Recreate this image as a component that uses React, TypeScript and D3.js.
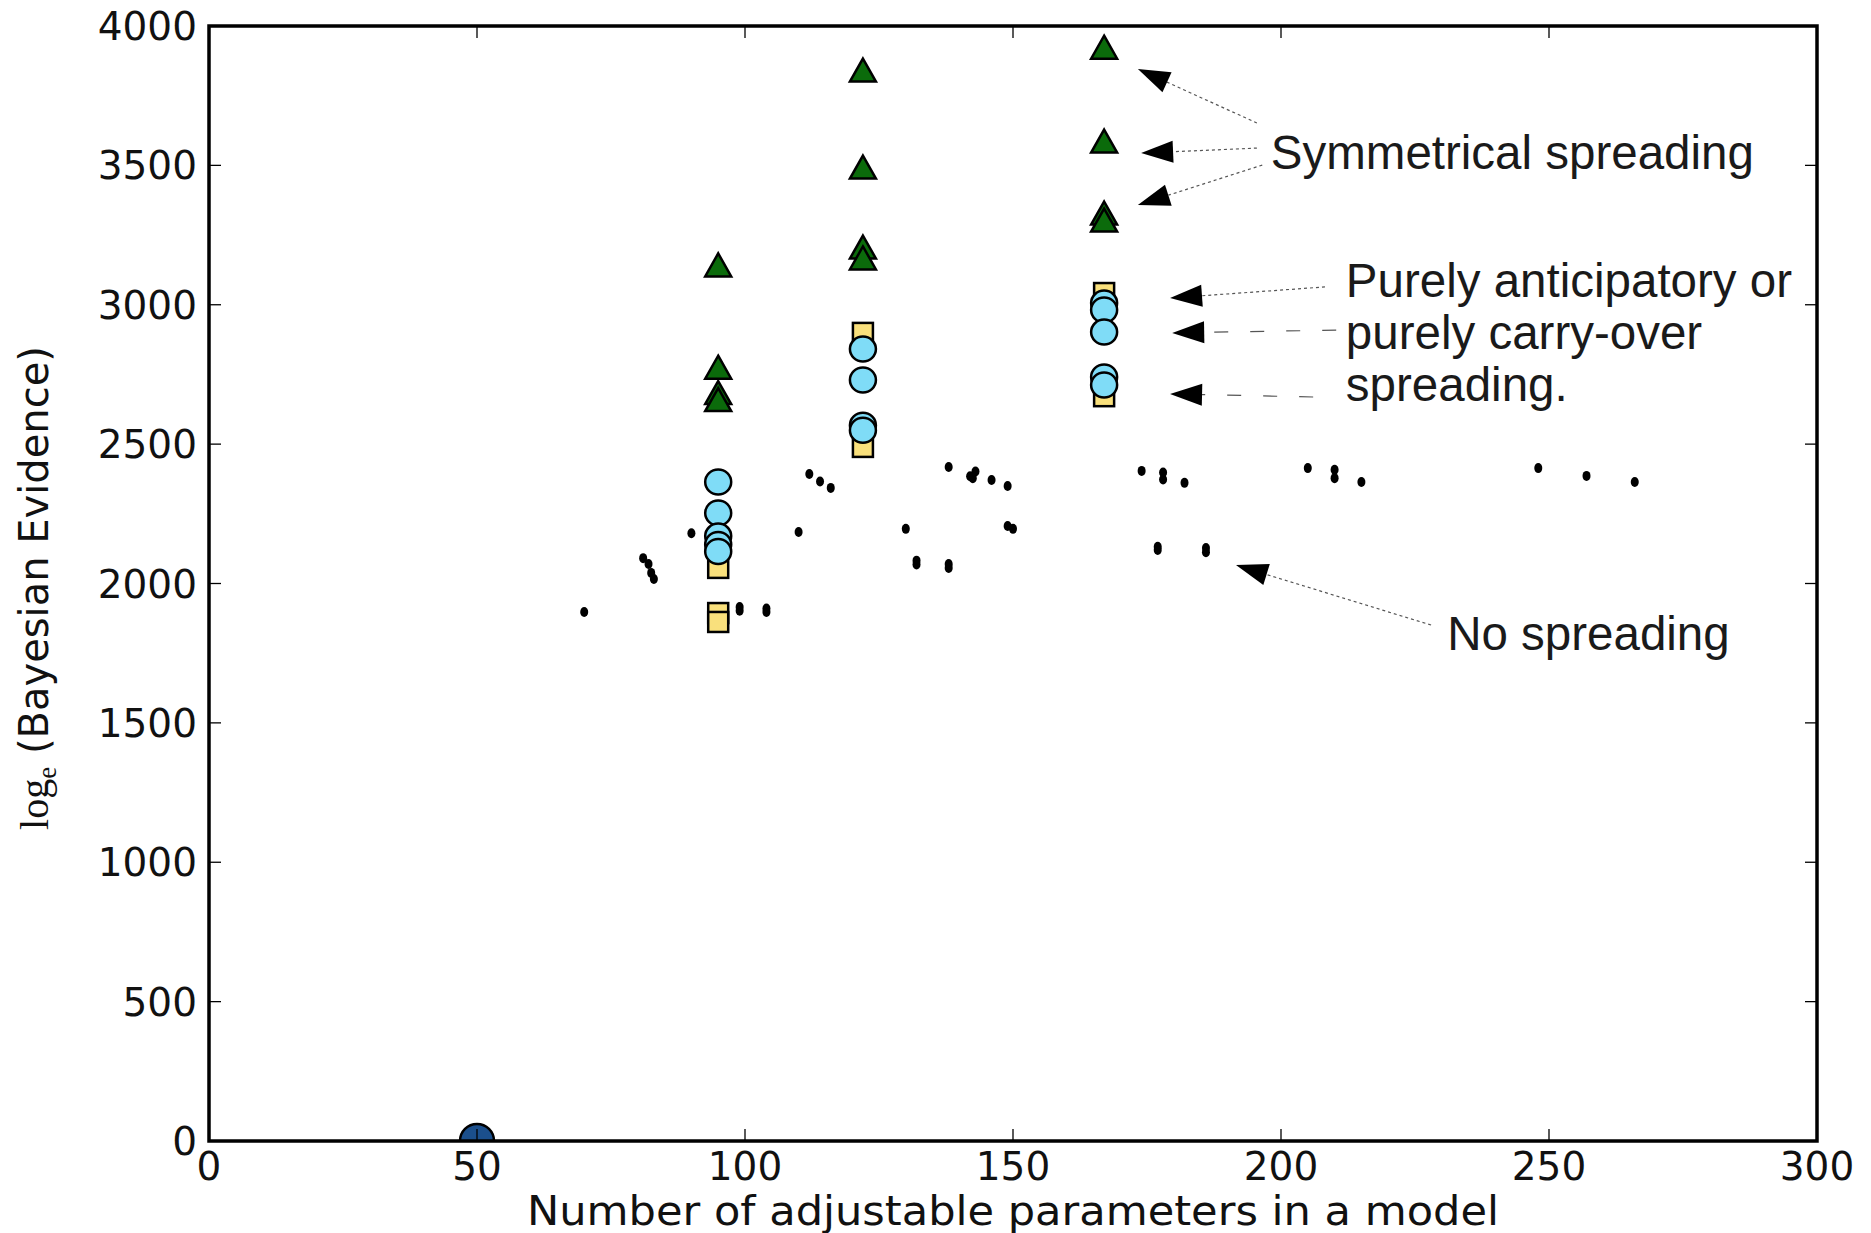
import React from "react";
import * as d3 from "d3";

const W = 1871;
const H = 1233;

const xTicks = [0, 50, 100, 150, 200, 250, 300];
const yTicks = [0, 500, 1000, 1500, 2000, 2500, 3000, 3500, 4000];

// No spreading (small black dots)
const noSpreadX = [70, 81, 82, 82.5, 83, 90, 99, 99, 104, 104, 110, 112, 114, 116, 130, 132, 132, 138, 138, 138, 142, 143, 142.5, 146, 149, 149, 150, 174, 178, 178, 182, 177, 177, 186, 186, 205, 210, 210, 215, 248, 257, 266];
const noSpreadY = [1898, 2091, 2070, 2038, 2016, 2180, 1916, 1902, 1910, 1898, 2185, 2393, 2366, 2343, 2196, 2082, 2068, 2070, 2056, 2418, 2385, 2402, 2378, 2371, 2350, 2206, 2196, 2404, 2398, 2373, 2361, 2132, 2120, 2127, 2112, 2414, 2408, 2378, 2364, 2414, 2386, 2364];

// Symmetrical spreading (green triangles)
const symX = [95, 95, 95, 95, 122, 122, 122, 122, 167, 167, 167, 167];
const symY = [3143, 2776, 2685, 2660, 3842, 3494, 3207, 3168, 3924, 3587, 3329, 3304];

// Purely anticipatory (yellow squares)
const antX = [95, 95, 95, 122, 122, 167, 167];
const antY = [2056, 1894, 1862, 2899, 2490, 3042, 2672];

// Purely carry-over (cyan circles)
const carryX = [95, 95, 95, 95, 95, 122, 122, 122, 122, 167, 167, 167, 167, 167];
const carryY = [2364, 2253, 2170, 2140, 2115, 2841, 2730, 2568, 2550, 3006, 2981, 2902, 2741, 2712];

// Baseline model (big blue circle)
const baseX = [50];
const baseY = [0];

// Annotations (data coordinates)
const annLabels = [
  ["Symmetrical spreading"],
  ["Purely anticipatory or", "purely carry-over", "spreading."],
  ["No spreading"],
];
const annTextPos = [
  [198.1, 3487],
  [212.1, 3028],
  [231, 1761],
];
const annArrows = [
  { from: [195.5, 3652], to: [173.3, 3846], dash: "3,3" },
  { from: [195.5, 3562], to: [173.9, 3544], dash: "3,3" },
  { from: [196.5, 3501], to: [173.3, 3358], dash: "3,3" },
  { from: [208.2, 3064], to: [179.3, 3024], dash: "3,3" },
  { from: [210.3, 2909], to: [179.7, 2899], dash: "14,22" },
  { from: [206.0, 2669], to: [179.3, 2680], dash: "14,22" },
  { from: [228.0, 1851], to: [191.6, 2066], dash: "3,3" },
];

export default function App() {
  const L = 209, R = 1817, T = 26, B = 1141;
  const x = d3.scaleLinear().domain([0, 300]).range([L, R]);
  const y = d3.scaleLinear().domain([0, 4000]).range([B, T]);
  const tickLen = 12;

  const triPath = (cx: number, cy: number) => {
    const hw = 13, hh = 11.5;
    return `M${cx},${cy - hh}L${cx + hw},${cy + hh}L${cx - hw},${cy + hh}Z`;
  };

  const arrows = annArrows.map((a, i) => {
    const sx = x(a.from[0]), sy = y(a.from[1]);
    const tx = x(a.to[0]), ty = y(a.to[1]);
    const dx = tx - sx, dy = ty - sy;
    const len = Math.hypot(dx, dy);
    const ux = dx / len, uy = dy / len;
    const hl = 32, hw = 11;
    const bx = tx - ux * hl, by = ty - uy * hl;
    const nx = -uy, ny = ux;
    const pts = `${tx},${ty} ${bx + nx * hw},${by + ny * hw} ${bx - nx * hw},${by - ny * hw}`;
    return (
      <g key={i}>
        <line x1={sx} y1={sy} x2={bx} y2={by} stroke="#555" strokeWidth={1.2} strokeDasharray={a.dash} />
        <polygon points={pts} fill="#000" />
      </g>
    );
  });

  return (
    <svg width={W} height={H} style={{ position: "absolute", left: 0, top: 0, background: "#fff" }}>
      <defs>
        <clipPath id="plotclip">
          <rect x={L} y={T} width={R - L} height={B - T} />
        </clipPath>
      </defs>
      <rect x={0} y={0} width={W} height={H} fill="#fff" />

      <g clipPath="url(#plotclip)">
        {noSpreadX.map((v, i) => (
          <ellipse key={"n" + i} cx={x(v)} cy={y(noSpreadY[i])} rx={4} ry={5} fill="#000" />
        ))}
        {antX.map((v, i) => (
          <rect key={"a" + i} x={x(v) - 10} y={y(antY[i]) - 10} width={20} height={20} fill="#f9e07c" stroke="#000" strokeWidth={2.5} />
        ))}
        {carryX.map((v, i) => (
          <ellipse key={"c" + i} cx={x(v)} cy={y(carryY[i])} rx={13} ry={12.5} fill="#7fdcf7" stroke="#000" strokeWidth={2.5} />
        ))}
        {symX.map((v, i) => (
          <path key={"s" + i} d={triPath(x(v), y(symY[i]))} fill="#0b6b0b" stroke="#000" strokeWidth={2.5} strokeLinejoin="miter" />
        ))}
        {baseX.map((v, i) => (
          <circle key={"b" + i} cx={x(v)} cy={y(baseY[i])} r={17} fill="#1b4f8c" stroke="#000" strokeWidth={2.5} />
        ))}
      </g>

      {/* ticks */}
      {xTicks.map((t) => (
        <g key={"xt" + t}>
          <line x1={x(t)} x2={x(t)} y1={B} y2={B - tickLen} stroke="#000" strokeWidth={1.3} />
          <line x1={x(t)} x2={x(t)} y1={T} y2={T + tickLen} stroke="#000" strokeWidth={1.3} />
          <text x={x(t)} y={1180} textAnchor="middle" fontFamily="DejaVu Sans" fontSize={39} fill="#111">{t}</text>
        </g>
      ))}
      {yTicks.map((t) => (
        <g key={"yt" + t}>
          <line x1={L} x2={L + tickLen} y1={y(t)} y2={y(t)} stroke="#000" strokeWidth={1.3} />
          <line x1={R} x2={R - tickLen} y1={y(t)} y2={y(t)} stroke="#000" strokeWidth={1.3} />
          <text x={197} y={y(t) + 14} textAnchor="end" fontFamily="DejaVu Sans" fontSize={39} fill="#111">{t}</text>
        </g>
      ))}

      {/* frame */}
      <rect x={L} y={T} width={R - L} height={B - T} fill="none" stroke="#000" strokeWidth={3.5} />

      {/* axis labels */}
      <text x={(L + R) / 2} y={1225} textAnchor="middle" fontFamily="DejaVu Sans" fontSize={40} fill="#111" textLength={972} lengthAdjust="spacingAndGlyphs">
        Number of adjustable parameters in a model
      </text>
      <text transform={`translate(48, 588) rotate(-90)`} textAnchor="middle" fill="#111">
        <tspan fontFamily="Liberation Serif" fontSize={40}>log</tspan>
        <tspan fontFamily="Liberation Serif" fontSize={27} dy={8}>e</tspan>
        <tspan fontFamily="DejaVu Sans" fontSize={40} dy={-8}> (Bayesian Evidence)</tspan>
      </text>

      {/* annotations */}
      {arrows}
      {annLabels.map((lines, i) =>
        lines.map((ln, j) => (
          <text key={"al" + i + "_" + j} x={x(annTextPos[i][0])} y={y(annTextPos[i][1]) + j * 52} fontFamily="Liberation Sans" fontSize={47.5} fill="#1a1a1a">
            {ln}
          </text>
        ))
      )}
    </svg>
  );
}
